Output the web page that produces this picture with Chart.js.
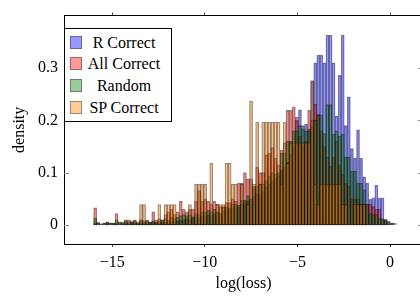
<!DOCTYPE html>
<html><head><meta charset="utf-8">
<script src="https://cdn.jsdelivr.net/npm/chart.js@4.4.0/dist/chart.umd.min.js"></script>
<style>
html,body{margin:0;padding:0;overflow:hidden;background:#fff;width:420px;height:297px}
#wrap{position:relative;width:426px;height:297px}
#legend{position:absolute;left:64px;top:28px;width:108px;height:94px;border:1px solid #000;background:#fff;box-sizing:border-box;font-family:"Liberation Serif",serif;font-size:16px;color:#000}
.row{position:absolute;left:0;width:100%;height:22px}
.sw{position:absolute;left:5px;top:4px;width:12px;height:13px;box-sizing:border-box;border:1px solid rgba(0,0,0,0.35)}
.lab{position:absolute;left:18px;right:6px;top:0;text-align:center;line-height:22px;white-space:nowrap}
</style>
</head><body>
<div id="wrap"><canvas id="c" width="426" height="297"></canvas><div id="legend"></div></div>
<script>
// histogram bins
const binStart = -16.0;
const binWidth = 0.165;
const xTicks = [-15, -10, -5, 0];
const yTicks = [0, 0.1, 0.2, 0.3];
const seriesNames = ['R Correct', 'All Correct', 'Random', 'SP Correct'];

const rCorrect = [
 0.003,0,0.002,0,0.003,0,0.002,0.003,0,0.002,
 0.003,0.002,0.004,0.003,0.002,0.004,0.003,0.002,0.004,0.005,
 0.004,0.005,0.006,0.005,0.007,0.006,0.008,0.007,0.009,0.01,
 0.012,0.01,0.013,0.015,0.014,0.017,0.016,0.02,0.018,0.022,
 0.024,0.022,0.027,0.03,0.028,0.033,0.036,0.034,0.04,0.043,
 0.046,0.05,0.055,0.06,0.058,0.066,0.072,0.078,0.085,0.09,
 0.095,0.105,0.11,0.12,0.135,0.15,0.2,0.22,0.19,0.193,
 0.184,0.275,0.31,0.325,0.325,0.31,0.363,0.363,0.31,0.208,
 0.286,0.363,0.19,0.245,0.146,0.128,0.182,0.128,0.092,0.08,
 0.049,0.052,0.076,0.052,0.052,0.011,0.006,0.003,0.003,0
];
const allCorrect = [
 0.033,0.005,0,0.003,0.006,0.004,0.003,0.022,0.006,0.003,
 0.01,0.01,0.008,0.01,0.004,0.01,0.008,0.01,0.006,0.025,
 0.01,0.012,0.01,0.02,0.025,0.03,0.02,0.025,0.045,0.03,
 0.025,0.03,0.03,0.045,0.066,0.045,0.05,0.045,0.04,0.045,
 0.04,0.035,0.035,0.043,0.043,0.05,0.045,0.08,0.08,0.1,
 0.088,0.088,0.07,0.11,0.1,0.1,0.134,0.137,0.148,0.128,
 0.115,0.143,0.157,0.219,0.219,0.226,0.206,0.17,0.15,0.16,
 0.219,0.2,0.231,0.211,0.18,0.15,0.13,0.112,0.13,0.16,
 0.115,0.097,0.08,0.074,0.05,0.05,0.05,0.04,0.04,0.04,
 0.04,0.035,0.03,0.03,0.01,0.01,0,0,0,0
];
const randomSel = [
 0.013,0.003,0.002,0.004,0.005,0.003,0.004,0.01,0.005,0.006,
 0.008,0.006,0.005,0.008,0.006,0.01,0.006,0.008,0.005,0.008,
 0.006,0.008,0.01,0.012,0.01,0.015,0.012,0.015,0.018,0.02,
 0.018,0.02,0.016,0.022,0.02,0.025,0.024,0.028,0.025,0.03,
 0.025,0.022,0.034,0.034,0.032,0.04,0.04,0.038,0.047,0.047,
 0.056,0.05,0.074,0.074,0.078,0.078,0.085,0.094,0.1,0.097,
 0.1,0.137,0.137,0.16,0.16,0.18,0.18,0.19,0.184,0.18,
 0.18,0.188,0.2,0.211,0.21,0.175,0.23,0.23,0.174,0.18,
 0.17,0.174,0.13,0.13,0.103,0.103,0.08,0.08,0.067,0.04,
 0.022,0.02,0.02,0.012,0.012,0.008,0.008,0.004,0,0
];
const spCorrect = [
 0,0,0,0,0,0,0,0,0,0,
 0,0,0,0,0,0.039,0.039,0,0,0,
 0,0.039,0,0.039,0.039,0.039,0.039,0,0,0,
 0,0.039,0,0.078,0.078,0.078,0.078,0,0.118,0,
 0.039,0.039,0.039,0.118,0.118,0.078,0.078,0,0.078,0,
 0.039,0.237,0.078,0.197,0.078,0.197,0.197,0.197,0.197,0.197,
 0.197,0.078,0.197,0.118,0.157,0.157,0.157,0.157,0.157,0.157,
 0.157,0.276,0.078,0.039,0.078,0.078,0.078,0.078,0.078,0.078,
 0.078,0.039,0.039,0,0,0.039,0.039,0.039,0.039,0,
 0,0,0,0,0,0,0,0,0,0
];

const fills = ['rgba(0,0,255,0.4)','rgba(255,0,0,0.4)','rgba(0,128,0,0.4)','rgba(255,128,0,0.4)'];
const seriesValues = [rCorrect, allCorrect, randomSel, spCorrect];
const FONT = '"Liberation Serif", "Times New Roman", serif';

function toPoints(vals){
  const pts = [];
  vals.forEach((v, i) => { if (v > 0) pts.push({x: binStart + binWidth * (i + 0.5), y: v}); });
  return pts;
}

const datasets = seriesValues.map((vals, k) => ({
  label: seriesNames[k],
  data: toPoints(vals),
  backgroundColor: fills[k],
  borderColor: 'rgba(0,0,0,0.45)',
  borderWidth: 0.7,
  borderSkipped: false,
  barPercentage: 1,
  categoryPercentage: 1,
  grouped: false,
  order: 4 - k
}));

const innerTicks = {
  id: 'innerTicks',
  afterDraw(chart){
    const {ctx, chartArea:a, scales} = chart;
    const y = scales.y;
    ctx.save();
    ctx.strokeStyle = '#888';
    ctx.lineWidth = 1;
    yTicks.forEach(v => {
      const py = Math.round(y.getPixelForValue(v)) + 0.5;
      ctx.beginPath();
      ctx.moveTo(a.left, py); ctx.lineTo(a.left + 5, py);
      ctx.moveTo(a.right - 5, py); ctx.lineTo(a.right, py);
      ctx.stroke();
    });
    ctx.restore();
  }
};

const xFmt = v => v < 0 ? '\u2212' + Math.abs(v) : String(v);

new Chart(document.getElementById('c'), {
  type: 'bar',
  data: { datasets },
  options: {
    responsive: false,
    animation: false,
    layout: { padding: { left: 0, right: 3, top: 0, bottom: 0 } },
    plugins: { legend: { display: false }, tooltip: { enabled: false } },
    scales: {
      x: {
        type: 'linear', position: 'bottom', min: -17.6, max: 1.78, offset: false,
        afterBuildTicks: s => { s.ticks = xTicks.map(v => ({value: v})); },
        afterFit: s => { s.height = 53; },
        ticks: { font: {family: FONT, size: 16}, color: '#000', padding: 6, maxRotation: 0, callback: xFmt },
        grid: { display: true, offset: false, drawOnChartArea: false, drawTicks: true, tickLength: 3, color: '#444' },
        border: { display: true, color: '#000', width: 1 },
        title: { display: true, text: 'log(loss)', font: {family: FONT, size: 16}, color: '#000', padding: {top: 0, bottom: 4} }
      },
      x2: {
        type: 'linear', position: 'top', min: -17.6, max: 1.78, offset: false,
        afterBuildTicks: s => { s.ticks = xTicks.map(v => ({value: v})); },
        afterFit: s => { s.height = 3; },
        ticks: { display: false },
        grid: { display: true, offset: false, drawOnChartArea: false, drawTicks: true, tickLength: 3, color: '#444' },
        border: { display: true, color: '#000', width: 1 }
      },
      y: {
        type: 'linear', min: -0.0364, max: 0.4004,
        afterBuildTicks: s => { s.ticks = yTicks.map(v => ({value: v})); },
        afterFit: s => { s.width = 64; },
        ticks: { font: {family: FONT, size: 16}, color: '#000', padding: 6, callback: v => v === 0 ? '0' : v.toFixed(1) },
        grid: { display: false, drawTicks: false },
        border: { display: true, color: '#000', width: 1 },
        title: { display: true, text: 'density', font: {family: FONT, size: 16}, color: '#000', padding: {top: 10, bottom: 0} }
      }
    }
  },
  plugins: [innerTicks]
});

// legend overlay built from dataset names/colours
const leg = document.getElementById('legend');
seriesNames.forEach((name, k) => {
  const row = document.createElement('div');
  row.className = 'row';
  row.style.top = (2.5 + k * 21.7) + 'px';
  const sw = document.createElement('div');
  sw.className = 'sw';
  sw.style.background = fills[k];
  const lab = document.createElement('div');
  lab.className = 'lab';
  lab.textContent = name;
  row.appendChild(sw); row.appendChild(lab);
  leg.appendChild(row);
});
</script>
</body></html>
